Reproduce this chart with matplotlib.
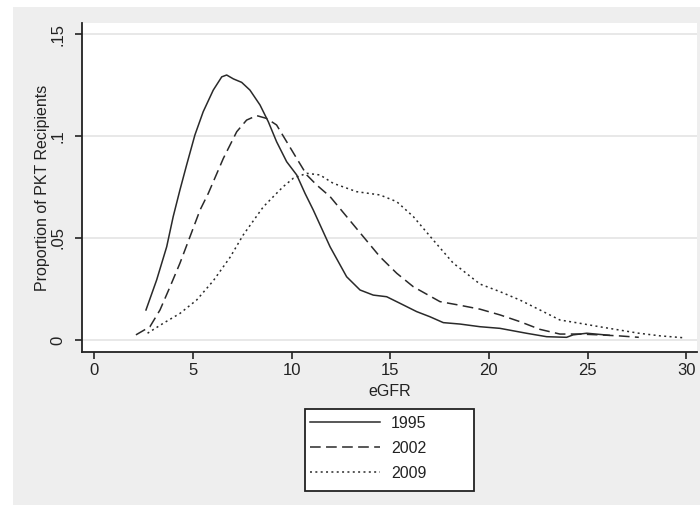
import matplotlib
matplotlib.use("Agg")
import matplotlib.pyplot as plt
from matplotlib.patches import Rectangle

# eGFR density curves
egfr_1995 = [2.62, 3.16, 3.67, 4.00, 4.34, 4.68, 5.10, 5.52, 6.03, 6.46, 6.71, 7.05,
             7.47, 7.89, 8.40, 8.82, 9.24, 9.75, 10.26, 10.68, 11.10, 11.95, 12.79,
             13.47, 14.14, 14.82, 15.49, 16.34, 17.01, 17.69, 18.54, 19.55, 20.56,
             21.90, 22.93, 23.94, 24.27, 24.96, 26.10]
prop_1995 = [0.0147, 0.0294, 0.0457, 0.0605, 0.0735, 0.0858, 0.1005, 0.1119, 0.1225,
             0.129, 0.1299, 0.128, 0.1263, 0.1225, 0.1152, 0.107, 0.0972, 0.0874,
             0.0809, 0.0719, 0.0637, 0.0457, 0.031, 0.0245, 0.022, 0.0212, 0.018,
             0.0139, 0.0114, 0.0085, 0.0078, 0.0065, 0.0057, 0.0033, 0.0016, 0.0013,
             0.0025, 0.0033, 0.0023]

egfr_2002 = [2.11, 2.82, 3.33, 3.84, 4.34, 4.85, 5.36, 5.78, 6.54, 7.22, 7.72, 8.23,
             8.74, 9.24, 9.75, 10.26, 10.77, 11.27, 11.95, 12.79, 13.63, 14.48, 15.33,
             16.17, 17.52, 18.54, 19.55, 20.56, 21.57, 22.59, 23.60, 24.60, 25.60,
             26.60, 27.60]
prop_2002 = [0.0025, 0.0065, 0.0147, 0.0261, 0.0376, 0.0506, 0.0637, 0.0719, 0.089,
             0.1021, 0.1078, 0.110, 0.1086, 0.1054, 0.0972, 0.089, 0.0809, 0.076,
             0.0703, 0.0605, 0.0507, 0.0408, 0.0327, 0.0261, 0.0188, 0.017, 0.0151,
             0.0123, 0.009, 0.0052, 0.0029, 0.0029, 0.0025, 0.002, 0.0013]

egfr_2009 = [2.70, 3.50, 4.34, 5.19, 6.03, 6.88, 7.55, 8.57, 9.24, 9.58, 10.09, 10.77,
             11.44, 12.11, 13.30, 14.48, 15.33, 16.17, 17.18, 18.20, 18.54, 19.55,
             20.56, 21.57, 22.59, 23.60, 24.60, 25.60, 26.60, 27.60, 28.70, 29.85]
prop_2009 = [0.0033, 0.0082, 0.013, 0.0196, 0.029, 0.0405, 0.0515, 0.0653, 0.0719,
             0.0752, 0.0793, 0.0817, 0.0809, 0.0768, 0.0727, 0.0711, 0.0678, 0.0605,
             0.049, 0.0376, 0.0351, 0.0274, 0.0237, 0.0196, 0.0147, 0.0098, 0.0082,
             0.0065, 0.0049, 0.0033, 0.002, 0.0011]

series_labels = ["1995", "2002", "2009"]
x_ticks = [0, 5, 10, 15, 20, 25, 30]
y_ticks = [0, 0.05, 0.1, 0.15]
y_tick_labels = ["0", ".05", ".1", ".15"]

plt.rcParams["font.family"] = ["Liberation Sans", "DejaVu Sans"]

W, H = 700, 511
fig = plt.figure(figsize=(W / 100, H / 100), dpi=100, facecolor="white")

# stata-like gray graph region
fig.patches.append(Rectangle((13 / W, 1 - 505 / H), (W - 13) / W, (505 - 7) / H,
                             transform=fig.transFigure, facecolor="#eeeeee",
                             edgecolor="none", zorder=-5))

ax = fig.add_axes([82 / W, 1 - 352 / H, (697 - 82) / W, (352 - 23) / H])
ax.set_facecolor("white")

line_color = "#2a2a2a"
h1, = ax.plot(egfr_1995, prop_1995, color=line_color, lw=1.1, linestyle="-")
h2, = ax.plot(egfr_2002, prop_2002, color=line_color, lw=1.1, linestyle=(0, (7, 3.5)))
h3, = ax.plot(egfr_2009, prop_2009, color=line_color, lw=1.1, linestyle=(0, (1.3, 2.2)))

ax.set_xlim(-0.623, 30.55)
ax.set_ylim(-0.0059, 0.1554)

ax.set_xticks(x_ticks)
ax.set_yticks(y_ticks)
ax.set_yticklabels(y_tick_labels)
for gy in y_ticks:
    ax.axhline(gy, color="#e4e4e4", lw=1.2, zorder=0)

for side in ["top", "right"]:
    ax.spines[side].set_visible(False)
for side in ["left", "bottom"]:
    ax.spines[side].set_color("#222222")
    ax.spines[side].set_linewidth(1.3)

ax.tick_params(axis="both", direction="out", length=5, width=1.2, color="#222222",
               labelsize=12, labelcolor="#222222")
ax.tick_params(axis="x", pad=3)
ax.tick_params(axis="y", pad=7, labelrotation=90)
for lab in ax.get_yticklabels():
    lab.set_va("center")

ax.set_xlabel("eGFR", fontsize=11.5, color="#222222")
ax.xaxis.set_label_coords(0.5, -0.097)
ax.set_ylabel("Proportion of PKT Recipients", fontsize=11.5, color="#222222")
ax.yaxis.set_label_coords(-0.052, 0.5)

# legend box below the plot, drawn like stata's
fig.patches.append(Rectangle((305 / W, 1 - 491 / H), (474 - 305) / W, (491 - 409) / H,
                             transform=fig.transFigure, facecolor="white",
                             edgecolor="#222222", lw=1.3, zorder=1))
leg = fig.legend([h1, h2, h3], series_labels, loc="upper left",
                 bbox_to_anchor=(305 / W, 1 - 411 / H), frameon=False,
                 fontsize=11.5, handlelength=4.4, handletextpad=0.7,
                 labelspacing=0.62, borderpad=0.3, borderaxespad=0)
for t in leg.get_texts():
    t.set_color("#222222")

fig.savefig("out.png", dpi=100, facecolor=fig.get_facecolor())
